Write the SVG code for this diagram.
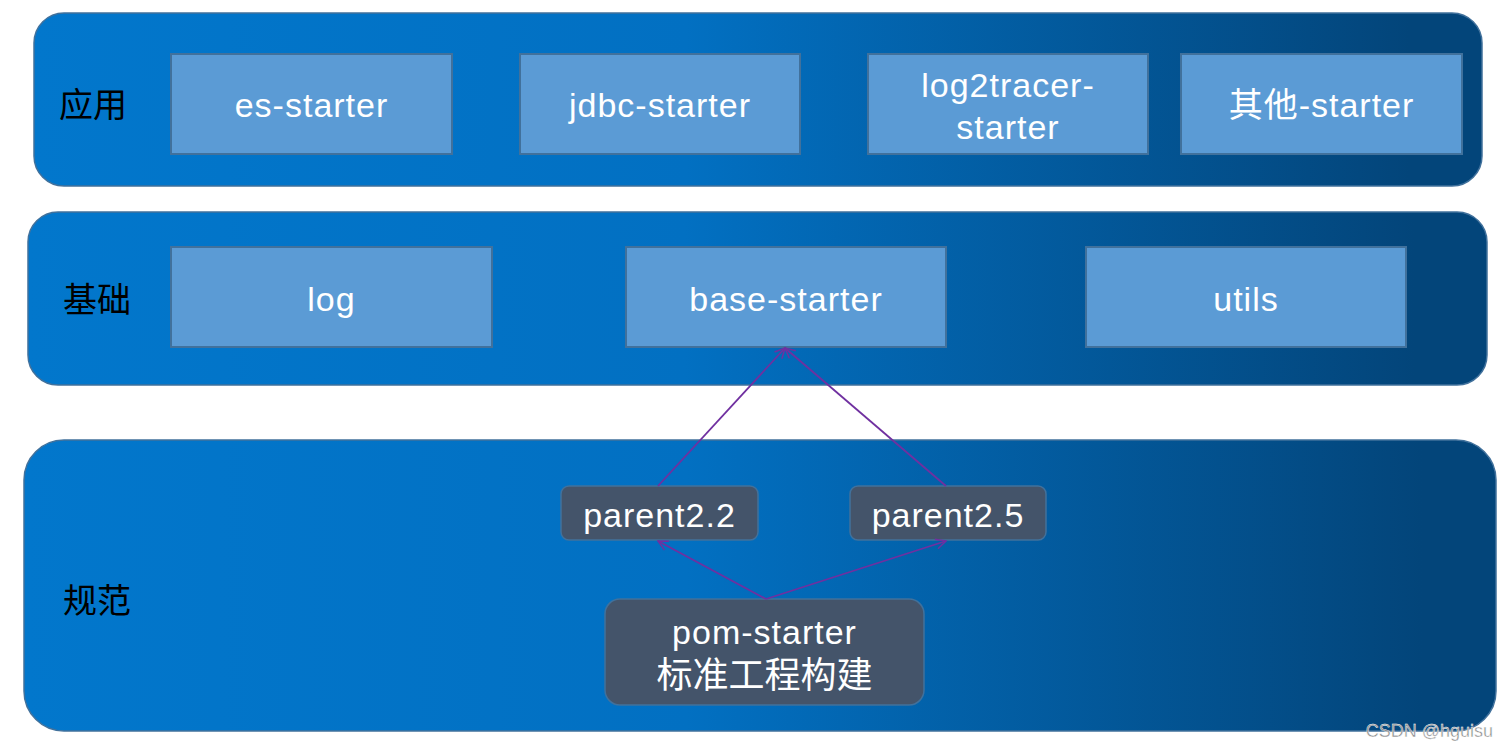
<svg xmlns="http://www.w3.org/2000/svg" width="1508" height="750" viewBox="0 0 1508 750">
<defs>
<linearGradient id="g" x1="0" y1="0" x2="1" y2="0">
<stop offset="0" stop-color="#0277CC"/>
<stop offset="0.45" stop-color="#0270C2"/>
<stop offset="0.95" stop-color="#03457A"/>
<stop offset="1" stop-color="#03457A"/>
</linearGradient>
<marker id="ah" viewBox="0 0 12 12" refX="11" refY="6" markerWidth="12" markerHeight="12" markerUnits="userSpaceOnUse" orient="auto">
<path d="M1,1 L11,6 L1,11" fill="none" stroke="#7030A0" stroke-width="1.5"/>
</marker>
<style>
.panel{fill:url(#g);stroke:#41719C;stroke-width:1.5}
.box{fill:#5B9BD5;stroke:#41719C;stroke-width:2}
.dbox{fill:#44546A;stroke:#41719C;stroke-width:1.5}
.t{font-family:"Liberation Sans",Arial,sans-serif;font-size:34px;letter-spacing:1px;fill:#fff;text-anchor:middle}
.lab{font-family:"Noto Sans CJK SC",serif;font-size:34px;fill:#000}
.cn{font-family:"Liberation Sans","Noto Sans CJK SC",sans-serif}
.cj{font-size:36px;letter-spacing:0}
.c{fill:none;stroke:#7030A0;stroke-width:1.8;marker-end:url(#ah)}
</style>
</defs>
<rect width="1508" height="750" fill="#fff"/>
<g id="layer-app">
<rect class="panel" x="34" y="13" width="1448" height="173" rx="30"/>
<text class="lab" x="59" y="117">应用</text>
</g>
<g id="layer-base">
<rect class="panel" x="28" y="212" width="1459" height="173" rx="30"/>
<text class="lab" x="63" y="312">基础</text>
</g>
<g id="layer-spec">
<rect class="panel" x="24" y="440" width="1472" height="291" rx="40"/>
<text class="lab" x="63" y="613">规范</text>
</g>
<g id="es-starter"><rect class="box" x="171" y="54" width="281" height="100"/><text class="t" x="311.5" y="117">es-starter</text></g>
<g id="jdbc-starter"><rect class="box" x="520" y="54" width="280" height="100"/><text class="t" x="660" y="117">jdbc-starter</text></g>
<g id="log2tracer-starter"><rect class="box" x="868" y="54" width="280" height="100"/><text class="t" x="1008" y="97">log2tracer-</text><text class="t" x="1008" y="139">starter</text></g>
<g id="other-starter"><rect class="box" x="1181" y="54" width="281" height="100"/><text class="t cn" x="1321.5" y="117">其他-starter</text></g>
<g id="log"><rect class="box" x="171" y="247" width="321" height="100"/><text class="t" x="331.5" y="311">log</text></g>
<g id="base-starter"><rect class="box" x="626" y="247" width="320" height="100"/><text class="t" x="786" y="311">base-starter</text></g>
<g id="utils"><rect class="box" x="1086" y="247" width="320" height="100"/><text class="t" x="1246" y="311">utils</text></g>
<g id="parent22"><rect class="dbox" x="561" y="486" width="197" height="54" rx="8"/><text class="t" x="659.5" y="527">parent2.2</text></g>
<g id="parent25"><rect class="dbox" x="850" y="486" width="196" height="54" rx="8"/><text class="t" x="948" y="527">parent2.5</text></g>
<g id="pom-starter"><rect class="dbox" x="605" y="599" width="319" height="106" rx="15"/><text class="t" x="764.5" y="644">pom-starter</text><text class="t cn cj" x="764.5" y="688">标准工程构建</text></g>
<g id="connectors">
<line class="c" x1="658" y1="486" x2="785" y2="348"/>
<line class="c" x1="946" y1="486" x2="785" y2="348"/>
<line class="c" x1="766" y1="599" x2="658" y2="541"/>
<line class="c" x1="766" y1="599" x2="946" y2="541"/>
</g>
<text x="1493" y="737" text-anchor="end" font-family="Liberation Sans,Arial,sans-serif" font-size="18" fill="#8a8a8a" stroke="#fff" stroke-width="0.4">CSDN @hguisu</text>
</svg>
